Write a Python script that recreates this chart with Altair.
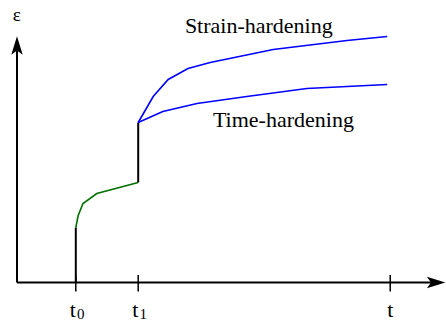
import altair as alt
import pandas as pd

# Load instants on the time axis
t0 = 0.98
t1 = 2.02
t_end = 6.22

# Creep under first load level (green), from t0 to t1
primary_t = [0.98, 1.02, 1.10, 1.33, 2.02]
primary_e = [1.10, 1.34, 1.58, 1.78, 2.00]

# Instantaneous strains at load application
jump0 = [0.0, 1.10]
jump1 = [2.00, 3.20]

# Creep after the load step: strain-hardening rule
strain_t = [2.02, 2.27, 2.52, 2.85, 3.22, 4.27, 5.50, 6.17]
strain_e = [3.20, 3.72, 4.06, 4.28, 4.40, 4.66, 4.84, 4.92]

# Creep after the load step: time-hardening rule
time_t = [2.02, 2.43, 3.00, 3.83, 4.83, 6.17]
time_e = [3.20, 3.42, 3.58, 3.72, 3.88, 3.96]

# Axis extents
x_axis_end = 7.0
y_axis_end = 4.64

X = alt.Scale(domain=[-0.2833, 7.15], nice=False, zero=False)
Y = alt.Scale(domain=[-0.79, 5.65], nice=False, zero=False)
FONT = "Liberation Serif"

def xe(field="t"):
    return alt.X(f"{field}:Q", scale=X, axis=None)

def ye(field="e"):
    return alt.Y(f"{field}:Q", scale=Y, axis=None)

def curve(ts, es, color):
    df = pd.DataFrame({"t": ts, "e": es, "i": list(range(len(ts)))})
    return alt.Chart(df).mark_line(color=color, strokeWidth=1.6).encode(
        x=xe(), y=ye(), order="i:Q")

# Axes as plain rules
axes_df = pd.DataFrame({
    "t": [0.0, 0.0], "t2": [x_axis_end, 0.0],
    "e": [0.0, 0.0], "e2": [0.0, y_axis_end],
})
axes = alt.Chart(axes_df).mark_rule(color="black", strokeWidth=2).encode(
    x=xe(), x2="t2:Q", y=ye(), y2="e2:Q")

# Arrowheads
arrow_path = "M0,-1 L0.62,1 L0,0.55 L-0.62,1 Z"
arrow_df = pd.DataFrame({"t": [6.985, 0.0], "e": [0.0, 4.74], "a": [90, 0]})
arrows = alt.Chart(arrow_df).mark_point(
    shape=arrow_path, filled=True, color="black", opacity=1, size=340
).encode(x=xe(), y=ye(), angle=alt.Angle("a:Q", scale=None))

# Tick marks
tick_df = pd.DataFrame({"t": [t0, t1, t_end], "e": [0.15] * 3, "e2": [-0.18] * 3})
ticks = alt.Chart(tick_df).mark_rule(color="black", strokeWidth=1.5).encode(
    x=xe(), y=ye(), y2="e2:Q")

# Jumps at load application
jumps_df = pd.DataFrame({
    "t": [t0, t1], "e": [jump0[0], jump1[0]], "e2": [jump0[1], jump1[1]]})
jumps = alt.Chart(jumps_df).mark_rule(color="black", strokeWidth=2).encode(
    x=xe(), y=ye(), y2="e2:Q")

# Tick labels: main letter and subscript
lab_df = pd.DataFrame({"t": [t0, t1], "e": [-0.69] * 2, "s": ["t", "t"]})
labels = alt.Chart(lab_df).mark_text(
    font=FONT, fontSize=22, baseline="alphabetic", dx=-3
).encode(x=xe(), y=ye(), text="s:N")

end_df = pd.DataFrame({"t": [t_end], "e": [-0.69], "s": ["t"]})
end_label = alt.Chart(end_df).mark_text(
    font=FONT, fontSize=22, baseline="alphabetic"
).encode(x=xe(), y=ye(), text="s:N")

sub_df = pd.DataFrame({"t": [t0, t1], "e": [-0.72] * 2, "s": ["0", "1"]})
subs = alt.Chart(sub_df).mark_text(
    font=FONT, fontSize=15, baseline="alphabetic", dx=5
).encode(x=xe(), y=ye(), text="s:N")

# Curve annotations
ann_df = pd.DataFrame({
    "t": [4.03, 4.44],
    "e": [4.99, 3.12],
    "s": ["Strain-hardening", "Time-hardening"],
})
ann = alt.Chart(ann_df).mark_text(
    font=FONT, fontSize=22, baseline="alphabetic"
).encode(x=xe(), y=ye(), text="s:N")

# Axis name
eps_df = pd.DataFrame({"t": [-0.005], "e": [5.24], "s": ["ε"]})
eps = alt.Chart(eps_df).mark_text(
    font=FONT, fontSize=19, baseline="alphabetic"
).encode(x=xe(), y=ye(), text="s:N")

chart = alt.layer(
    axes, ticks, jumps,
    curve(primary_t, primary_e, "#007000"),
    curve(strain_t, strain_e, "#0000ff"),
    curve(time_t, time_e, "#0000ff"),
    arrows, labels, end_label, subs, ann, eps,
).properties(
    width=446, height=322,
    autosize=alt.AutoSizeParams(type="none"),
    padding=0,
    background="white",
).configure_view(stroke=None)

chart.save("out.html", embed_options={"renderer": "svg", "actions": False})
